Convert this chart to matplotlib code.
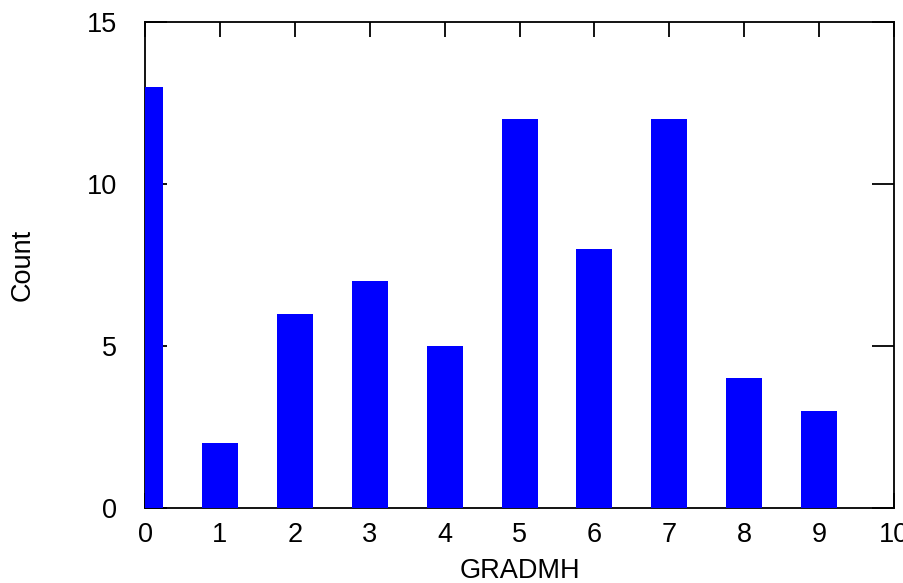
import numpy as np
import matplotlib
matplotlib.use('Agg')
import matplotlib.pyplot as plt

plt.rcParams['font.family'] = ['Liberation Sans', 'DejaVu Sans']

# histogram of GRADMH
gradmh = [0, 1, 2, 3, 4, 5, 6, 7, 8, 9]
counts = [13, 2, 6, 7, 5, 12, 8, 12, 4, 3]
xticks = [0, 1, 2, 3, 4, 5, 6, 7, 8, 9, 10]
yticks = [0, 5, 10, 15]

fig = plt.figure(figsize=(9.04, 5.83), dpi=100)
ax = fig.add_axes([0.1604, 0.1286, 0.989 - 0.1604, 0.9623 - 0.1286])

ax.bar(gradmh, counts, width=0.48, color='#0000ff', zorder=3)

ax.set_xlim(0, 10)
ax.set_ylim(0, 15)
ax.set_xticks(xticks)
ax.set_yticks(yticks)

ax.tick_params(axis='x', direction='in', length=11, width=1.3, top=True, bottom=True,
               labelsize=19.5, pad=10)
ax.tick_params(axis='y', direction='in', length=16, width=1.3, left=True, right=True,
               labelsize=19.5, pad=20)
for s in ax.spines.values():
    s.set_linewidth(1.3)

ax.set_xlabel('GRADMH', fontsize=19.5, labelpad=7)
ax.set_ylabel('Count', fontsize=19.5, va='center')
ax.yaxis.set_label_coords(-0.163, 0.5)

fig.savefig('out.png', dpi=100)
